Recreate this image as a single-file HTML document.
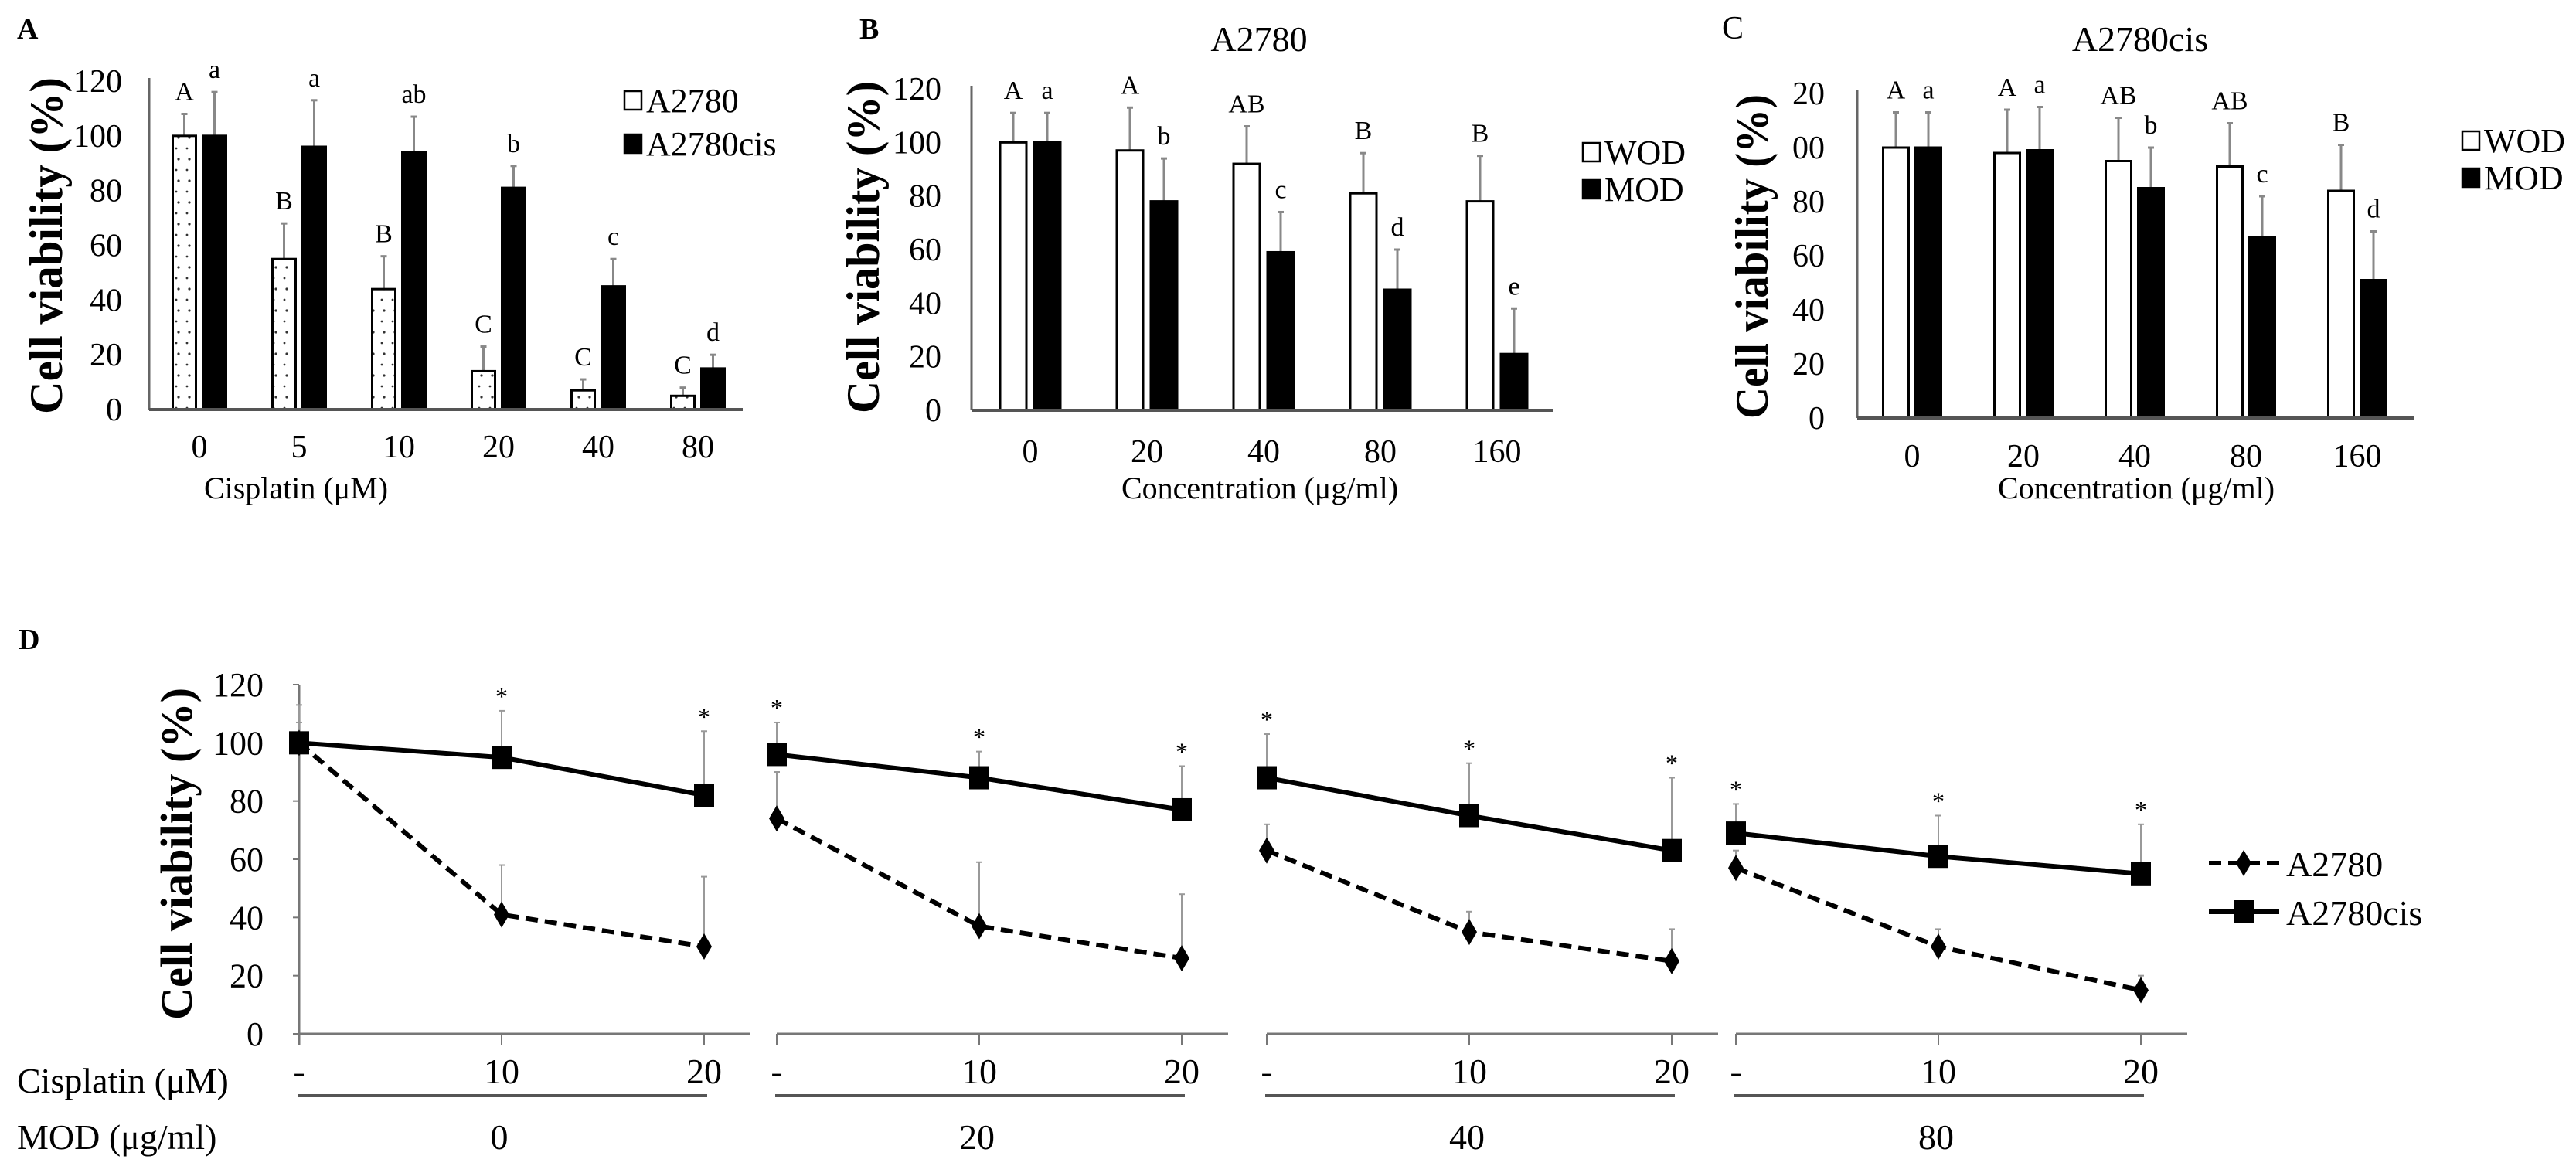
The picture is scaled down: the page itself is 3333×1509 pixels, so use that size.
<!DOCTYPE html>
<html><head><meta charset="utf-8"><title>Cell viability figure</title>
<style>
html,body{margin:0;padding:0;background:#fff;}
svg{display:block;font-family:"Liberation Serif",serif;}
</style></head>
<body>
<svg id="fig" width="3333" height="1509" viewBox="0 0 3333 1509" xmlns="http://www.w3.org/2000/svg">
<defs>
<pattern id="dots" width="14" height="28" patternUnits="userSpaceOnUse">
<rect width="14" height="28" fill="#fff"/><circle cx="7" cy="10" r="1.6" fill="#333"/><circle cx="4" cy="24" r="1.4" fill="#333"/>
</pattern>
</defs>
<g id="root"></g>
</svg>
<script>
// Panel A data
const catsA = ["0","5","10","20","40","80"];
const a2780A = [100,55,44,14,7,5];
const a2780ErrA = [108,68,56,23,11,8];
const cisA = [100,96,94,81,45,15];
const cisErrA = [116,113,107,89,55,20];
const lettersA1 = ["A","B","B","C","C","C"];
const lettersA2 = ["a","a","ab","b","c","d"];
const yTicksA = ["0","20","40","60","80","100","120"];
// Panel B data
const catsB = ["0","20","40","80","160"];
const wodB = [100,97,92,81,78];
const wodErrB = [111,113,106,96,95];
const modB = [100,78,59,45,21];
const modErrB = [111,94,74,60,38];
const lettersB1 = ["A","A","AB","B","B"];
const lettersB2 = ["a","b","c","d","e"];
const yTicksB = ["0","20","40","60","80","100","120"];
// Panel C data
const catsC = ["0","20","40","80","160"];
const wodC = [100,98,95,93,84];
const wodErrC = [113,114,111,109,101];
const modC = [100,99,85,67,51];
const modErrC = [113,115,100,82,69];
const lettersC1 = ["A","A","AB","AB","B"];
const lettersC2 = ["a","a","b","c","d"];
const yTicksC = ["0","20","40","60","80","00","20"];
// Panel D data
const cisplatinD = ["-","10","20"];
const modD = ["0","20","40","80"];
const cisLineD = [100,95,82, 96,88,77, 88,75,63, 69,61,55];
const cisLineErrD = [113,111,104, 107,97,92, 103,93,88, 79,75,72];
const a2780LineD = [100,41,30, 74,37,26, 63,35,25, 57,30,15];
const a2780LineErrD = [107,58,54, 90,59,48, 72,42,36, 63,36,20];
const starsD = [false,true,true, true,true,true, true,true,true, true,true,true];
const yTicksD = ["0","20","40","60","80","100","120"];

const NS = "http://www.w3.org/2000/svg";
const root = document.getElementById("root");
function mk(tag, attrs, parent, text){
  const e = document.createElementNS(NS, tag);
  for (const k in attrs) e.setAttribute(k, attrs[k]);
  if (text !== undefined) e.textContent = text;
  (parent || root).appendChild(e);
  return e;
}

function barPanel(cfg){
  const g = mk("g", {});
  
  
  const y = v => cfg.zero - v * (cfg.zero - cfg.top) / 120;
  const cx = i => cfg.c0 + i * cfg.step;
  const ya = mk("line", {x1:cfg.ax, y1:cfg.top - 4, x2:cfg.ax, y2:cfg.zero, stroke:"#666", "stroke-width":3}, g);
  
  
  cfg.yTicks.forEach((t, i) => {
    const tl = mk("text", {x:cfg.tickR, y:y(i*20)+14, "text-anchor":"end", "font-size":42}, g, t);
    
    
  });
  cfg.s1.forEach((v, i) => {
    [[v, cfg.e1[i], cfg.l1[i], -1, cfg.fill1], [cfg.s2[i], cfg.e2[i], cfg.l2[i], 1, "#000"]].forEach(([val, err, lab, side, fill], k) => {
      const x0 = side < 0 ? cx(i) - cfg.gap/2 - cfg.bw : cx(i) + cfg.gap/2;
      const xm = x0 + cfg.bw/2;
      const el = mk("line", {x1:xm, y1:y(val), x2:xm, y2:y(err), stroke:"#888", "stroke-width":3}, g);
      
      
      mk("line", {x1:xm-4, y1:y(err), x2:xm+4, y2:y(err), stroke:"#888", "stroke-width":3}, g);
      const r = mk("rect", {x:x0, y:y(val), width:cfg.bw, height:cfg.zero - y(val), fill:fill, stroke:"#000", "stroke-width":3}, g);
      
      
      const lt = mk("text", {x:xm, y:y(err)-18, "text-anchor":"middle", "font-size":34}, g, lab);
      
      
    });
    const xl = mk("text", {x:cx(i), y:cfg.catY, "text-anchor":"middle", "font-size":42}, g, cfg.cats[i]);
    
    
  });
  const xa = mk("line", {x1:cfg.ax, y1:cfg.zero, x2:cfg.axEnd, y2:cfg.zero, stroke:"#555", "stroke-width":4}, g);
  
  
  const xt = mk("text", {x:cfg.xtX, y:645, "text-anchor":"middle", "font-size":40}, g, cfg.xTitle);
  
  
  const yt = mk("text", {x:0, y:0, "text-anchor":"middle", "font-size":60, "font-weight":"bold", transform:`translate(${cfg.ylX},${cfg.ylY}) rotate(-90)`, textLength:cfg.ylLen, lengthAdjust:"spacingAndGlyphs"}, g, "Cell viability (%)");
  
  
  const pl = mk("text", {x:cfg.plX, y:50, "font-size":cfg.plBold ? 38 : 42, "font-weight":cfg.plBold ? "bold" : "normal"}, g, cfg.panel);
  
  
  if (cfg.title){
    const tt = mk("text", {x:cfg.titleX, y:66, "text-anchor":"middle", "font-size":46}, g, cfg.title);
    
    
  }
  cfg.legend.forEach((lab, i) => {
    const ly = cfg.legY[i];
    const sq = mk("rect", {x:cfg.legX, y:ly-12, width:22, height:24, fill:i===0?"#fff":"#000", stroke:"#000", "stroke-width":2.5}, g);
    
    
    const lt = mk("text", {x:cfg.legX+28, y:ly+15, "font-size":44}, g, lab);
    
    
  });
}

barPanel({name:"panel-a", panel:"A", plX:22, plBold:true, ax:193, zero:530, top:105, c0:258, step:129, bw:30, gap:9, axEnd:961,
  cats:catsA, s1:a2780A, e1:a2780ErrA, s2:cisA, e2:cisErrA, l1:lettersA1, l2:lettersA2, yTicks:yTicksA,
  fill1:"url(#dots)", bar1:"bar-a2780", bar2:"bar-a2780cis", tickR:158, catY:592, xTitle:"Cisplatin (μM)", xtX:383,
  ylX:80, ylY:318, ylLen:436, legend:["A2780","A2780cis"], legX:808, legY:[130,186]});
barPanel({name:"panel-b", panel:"B", plX:1112, plBold:true, ax:1257, zero:531, top:115, c0:1333, step:151, bw:34, gap:10, axEnd:2010,
  cats:catsB, s1:wodB, e1:wodErrB, s2:modB, e2:modErrB, l1:lettersB1, l2:lettersB2, yTicks:yTicksB,
  fill1:"#fff", bar1:"bar-wod", bar2:"bar-mod", tickR:1218, catY:598, xTitle:"Concentration (μg/ml)", xtX:1630,
  title:"A2780", titleX:1629, ylX:1137, ylY:320, ylLen:430, legend:["WOD","MOD"], legX:2048, legY:[197,245]});
barPanel({name:"panel-c", panel:"C", plX:2228, plBold:false, ax:2403, zero:541, top:121, c0:2474, step:144, bw:33, gap:9, axEnd:3123,
  cats:catsC, s1:wodC, e1:wodErrC, s2:modC, e2:modErrC, l1:lettersC1, l2:lettersC2, yTicks:yTicksC,
  fill1:"#fff", bar1:"bar-wod", bar2:"bar-mod", tickR:2361, catY:604, xTitle:"Concentration (μg/ml)", xtX:2764,
  title:"A2780cis", titleX:2769, ylX:2287, ylY:332, ylLen:420, legend:["WOD","MOD"], legX:3186, legY:[182,230]});

// Panel D
(function(){
  const g = mk("g", {});
  
  
  const zero = 1338, top = 886;
  const y = v => zero - v * (zero - top) / 120;
  const groupX = [387, 1005, 1639, 2246];
  const pstep = 262;
  const px = i => groupX[Math.floor(i/3)] + (i%3) * pstep;
  const pl = mk("text", {x:24, y:840, "font-size":38, "font-weight":"bold"}, g, "D");
  
  
  const ya = mk("line", {x1:387, y1:top, x2:387, y2:zero+14, stroke:"#777", "stroke-width":3}, g);
  
  
  yTicksD.forEach((t, i) => {
    mk("line", {x1:379, y1:y(i*20), x2:387, y2:y(i*20), stroke:"#777", "stroke-width":2}, g);
    const tl = mk("text", {x:341, y:y(i*20)+15, "text-anchor":"end", "font-size":44}, g, t);
    
    
  });
  const yt = mk("text", {x:0, y:0, "text-anchor":"middle", "font-size":58, "font-weight":"bold", transform:"translate(248,1105) rotate(-90)", textLength:430, lengthAdjust:"spacingAndGlyphs"}, g, "Cell viability (%)");
  
  
  groupX.forEach((gx, gi) => {
    const xa = mk("line", {x1:gx, y1:zero, x2:gx + 2*pstep + 60, y2:zero, stroke:"#777", "stroke-width":3}, g);
    
    
    mk("line", {x1:gx-2, y1:1418, x2:gx + 2*pstep + 4, y2:1418, stroke:"#555", "stroke-width":4}, g);
    cisplatinD.forEach((c, k) => {
      const x = gx + k*pstep;
      mk("line", {x1:x, y1:zero, x2:x, y2:zero+14, stroke:"#777", "stroke-width":2}, g);
      const tl = mk("text", {x:x, y:1402, "text-anchor":"middle", "font-size":46}, g, c);
      
      
    });
    const ml = mk("text", {x:gx + pstep - 3, y:1487, "text-anchor":"middle", "font-size":46}, g, modD[gi]);
    
    
  });
  const r1 = mk("text", {x:22, y:1414, "font-size":46}, g, "Cisplatin (μM)");
  
  
  const r2 = mk("text", {x:22, y:1487, "font-size":46}, g, "MOD (μg/ml)");
  
  
  [[cisLineD, cisLineErrD], [a2780LineD, a2780LineErrD]].forEach(([vals, errs]) => {
    vals.forEach((v, i) => {
      const e = mk("line", {x1:px(i), y1:y(v), x2:px(i), y2:y(errs[i]), stroke:"#999", "stroke-width":2}, g);
      
      
      mk("line", {x1:px(i)-4, y1:y(errs[i]), x2:px(i)+4, y2:y(errs[i]), stroke:"#999", "stroke-width":2}, g);
    });
  });
  cisLineErrD.forEach((e, i) => {
    if (!starsD[i]) return;
    const s = mk("text", {x:px(i), y:y(e)-8, "text-anchor":"middle", "font-size":32}, g, "*");
    
    
  });
  for (let gi = 0; gi < 4; gi++){
    const idx = [gi*3, gi*3+1, gi*3+2];
    const dl = mk("polyline", {points: idx.map(i => px(i)+","+y(a2780LineD[i])).join(" "), fill:"none", stroke:"#000", "stroke-width":6, "stroke-dasharray":"16,9"}, g);
    
    
    const sl = mk("polyline", {points: idx.map(i => px(i)+","+y(cisLineD[i])).join(" "), fill:"none", stroke:"#000", "stroke-width":6}, g);
    
    
  }
  a2780LineD.forEach((v, i) => {
    const cy = y(v), cx = px(i);
    const d = mk("polygon", {points:`${cx},${cy-17} ${cx+10},${cy} ${cx},${cy+17} ${cx-10},${cy}`, fill:"#000"}, g);
    
    
  });
  cisLineD.forEach((v, i) => {
    const s = mk("rect", {x:px(i)-13, y:y(v)-15, width:26, height:30, fill:"#000"}, g);
    
    
  });
  const l1 = mk("line", {x1:2858, y1:1117, x2:2949, y2:1117, stroke:"#000", "stroke-width":6, "stroke-dasharray":"16,9"}, g);
  
  
  mk("polygon", {points:"2903,1100 2913,1117 2903,1134 2893,1117", fill:"#000"}, g);
  const t1 = mk("text", {x:2958, y:1134, "font-size":46}, g, "A2780");
  
  
  const l2 = mk("line", {x1:2858, y1:1180, x2:2949, y2:1180, stroke:"#000", "stroke-width":6}, g);
  
  
  mk("rect", {x:2890, y:1165, width:26, height:30, fill:"#000"}, g);
  const t2 = mk("text", {x:2958, y:1197, "font-size":46}, g, "A2780cis");
  
  
})();
</script>
</body></html>
